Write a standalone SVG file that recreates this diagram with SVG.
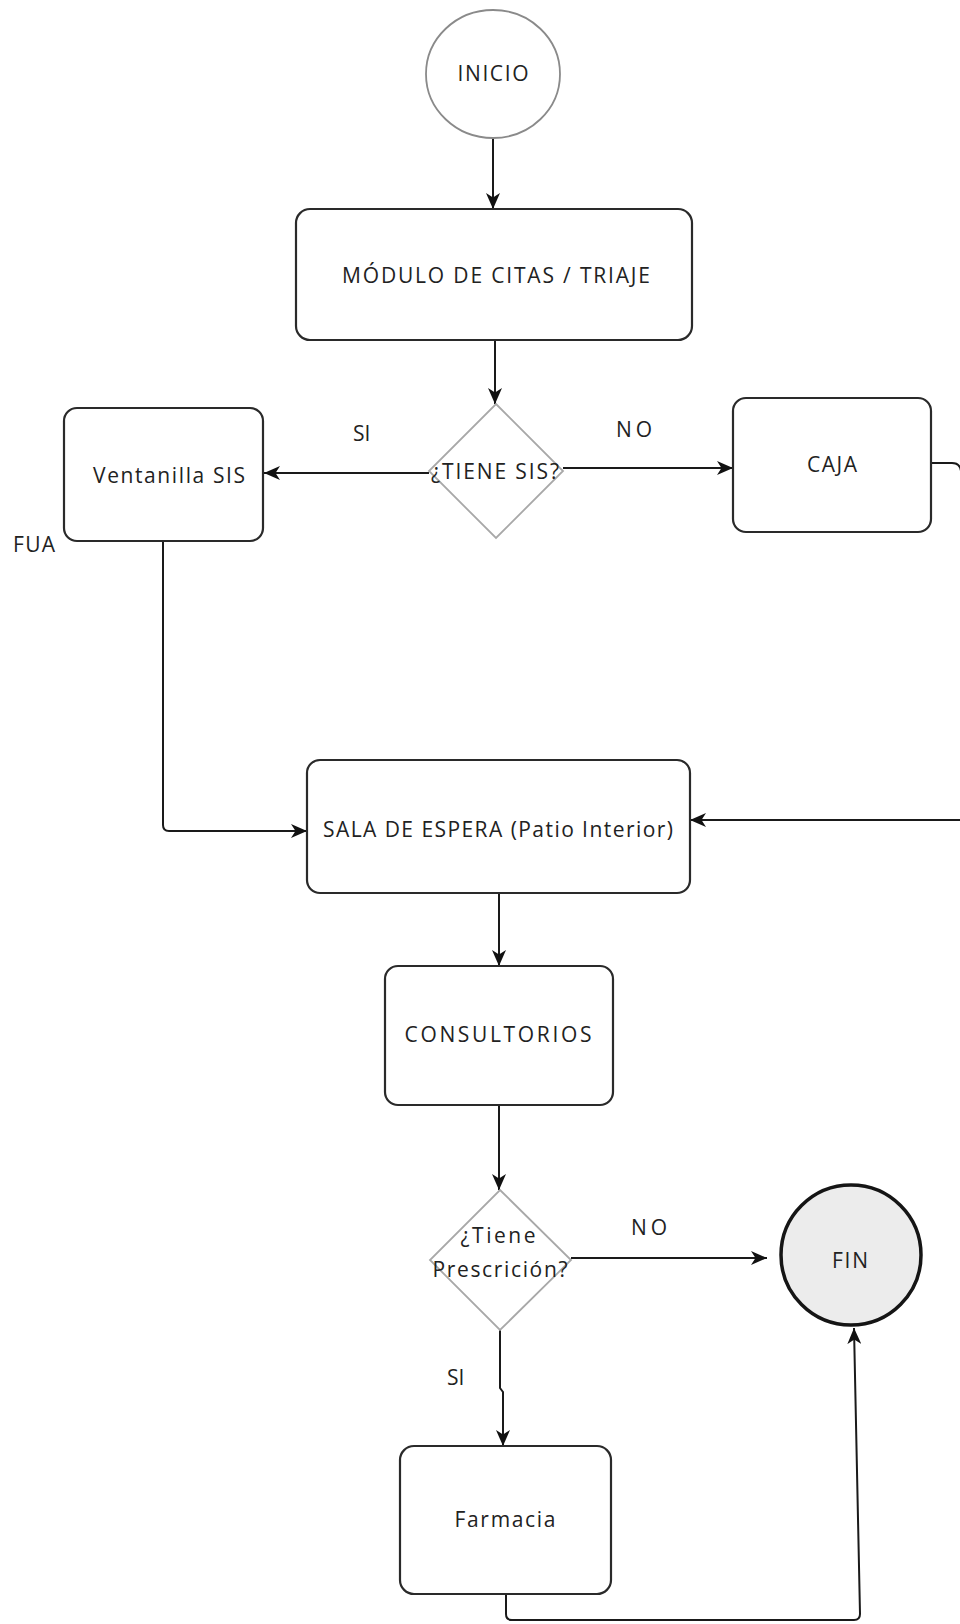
<svg xmlns="http://www.w3.org/2000/svg" width="960" height="1624" viewBox="0 0 960 1624">
<style>
.box{fill:#fff;stroke:#2a2a2a;stroke-width:2.2}
.dia{fill:#fff;stroke:#a8a8a8;stroke-width:1.8}
.start{fill:#fff;stroke:#8a8a8a;stroke-width:1.8}
.end{fill:#ececec;stroke:#151515;stroke-width:3.5}
.t{font-family:"Open Sans","Liberation Sans",sans-serif;font-size:21px;fill:#222;text-anchor:middle}
.l{font-family:"Open Sans","Liberation Sans",sans-serif;font-size:21px;fill:#222}
.c{fill:none;stroke:#1a1a1a;stroke-width:2}
</style>
<defs>
<marker id="ah" viewBox="0 0 16 14" refX="16" refY="7" markerWidth="16" markerHeight="14" orient="auto" markerUnits="userSpaceOnUse">
<path d="M0,0 L16,7 L0,14 L4.5,7 z" fill="#111"/>
</marker>
</defs>
<rect width="960" height="1624" fill="#fff"/>

<g id="connectors">
<path class="c" d="M493,139 V209" marker-end="url(#ah)"/>
<path class="c" d="M495,340 V404" marker-end="url(#ah)"/>
<path class="c" d="M429,473 H264" marker-end="url(#ah)"/>
<path class="c" d="M563,468 H733" marker-end="url(#ah)"/>
<path class="c" d="M163,541 V825 Q163,831 169,831 H307" marker-end="url(#ah)"/>
<path class="c" d="M932,463 H952 Q960,463 961,471 V820 H690" marker-end="url(#ah)"/>
<path class="c" d="M499,893 V966" marker-end="url(#ah)"/>
<path class="c" d="M499,1105 V1190" marker-end="url(#ah)"/>
<path class="c" d="M571,1258 H767" marker-end="url(#ah)"/>
<path class="c" d="M500,1330 V1388 L503,1392 V1446" marker-end="url(#ah)"/>
<path class="c" d="M506,1594 V1614 Q506,1620 512,1620 H854 Q860,1620 860,1614 L854,1328" marker-end="url(#ah)"/>
<text class="l" x="353" y="441">SI</text>
<text class="l" x="616" y="437" textLength="36">NO</text>
<text class="l" x="13" y="552" textLength="42">FUA</text>
<text class="l" x="631" y="1235" textLength="36">NO</text>
<text class="l" x="447" y="1385">SI</text>
</g>

<g id="inicio">
<ellipse class="start" cx="493" cy="74" rx="67" ry="64"/>
<text class="t" x="493" y="81" textLength="71">INICIO</text>
</g>

<g id="modulo">
<rect class="box" x="296" y="209" width="396" height="131" rx="14"/>
<text class="t" x="496" y="283" textLength="308">MÓDULO DE CITAS / TRIAJE</text>
</g>

<g id="tiene-sis">
<polygon class="dia" points="496,404 563,471 496,538 429,471"/>
<text class="t" x="495" y="479" textLength="128">¿TIENE SIS?</text>
</g>

<g id="ventanilla">
<rect class="box" x="64" y="408" width="199" height="133" rx="13"/>
<text class="t" x="169" y="483" textLength="152">Ventanilla SIS</text>
</g>

<g id="caja">
<rect class="box" x="733" y="398" width="198" height="134" rx="13"/>
<text class="t" x="832" y="472" textLength="50">CAJA</text>
</g>

<g id="sala">
<rect class="box" x="307" y="760" width="383" height="133" rx="13"/>
<text class="t" x="498" y="837" textLength="350">SALA DE ESPERA (Patio Interior)</text>
</g>

<g id="consultorios">
<rect class="box" x="385" y="966" width="228" height="139" rx="13"/>
<text class="t" x="498" y="1042" textLength="187">CONSULTORIOS</text>
</g>

<g id="prescripcion">
<polygon class="dia" points="500,1190 571,1260 500,1330 430,1260"/>
<text class="t" x="498" y="1243" textLength="75">¿Tiene</text>
<text class="t" x="500" y="1277" textLength="135">Prescrición?</text>
</g>

<g id="fin">
<circle class="end" cx="851" cy="1255" r="70"/>
<text class="t" x="850" y="1268" textLength="36">FIN</text>
</g>

<g id="farmacia">
<rect class="box" x="400" y="1446" width="211" height="148" rx="14"/>
<text class="t" x="505" y="1527" textLength="101">Farmacia</text>
</g>
</svg>
